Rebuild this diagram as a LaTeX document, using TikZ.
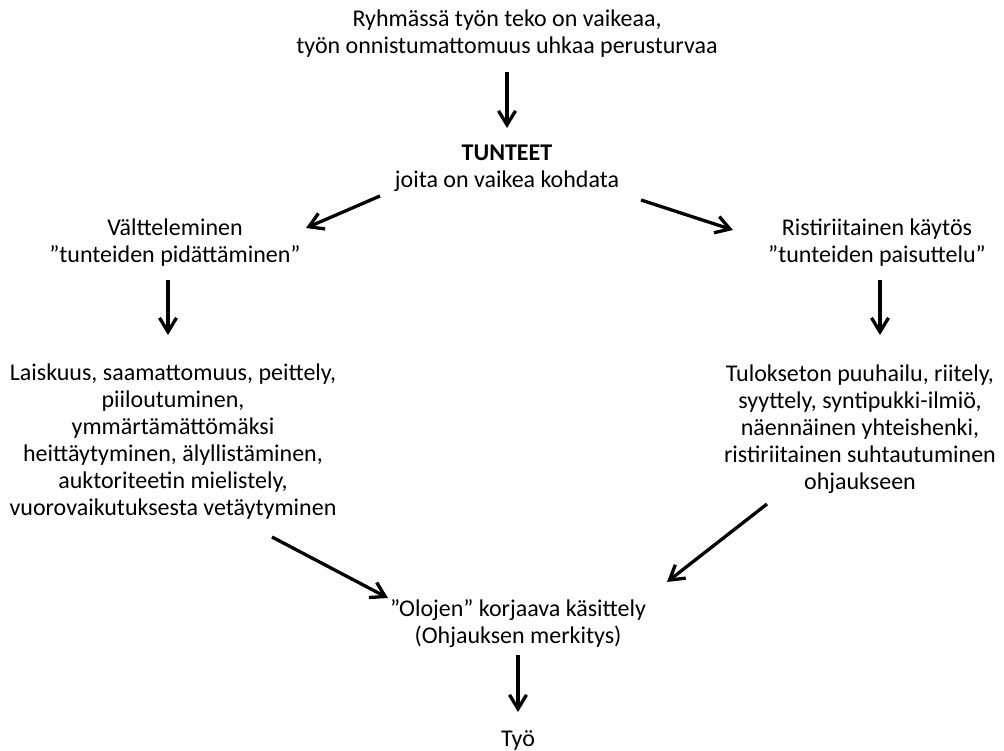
\documentclass[tikz,border=0pt]{standalone}
\usepackage{fontspec}
\setmainfont{Carlito}
\usetikzlibrary{arrows.meta}
\tikzset{
  txt/.style={align=center, inner sep=0pt, font=\fontsize{24}{27}\selectfont},
  arr/.style={line width=3.3pt, -{Straight Barb[length=14pt,width=17pt,line width=3.3pt]}}
}
\begin{document}
\begin{tikzpicture}[x=1pt,y=-1pt]
\useasboundingbox (0,0) rectangle (1004,751);
\node[txt] (top) at (507,33.5) {Ryhmässä työn teko on vaikeaa,\\työn onnistumattomuus uhkaa perusturvaa};
\node[txt] (tun) at (507,168.5) {\textbf{TUNTEET}\\joita on vaikea kohdata};
\node[txt] (valt) at (175,243) {Vältteleminen\\”tunteiden pidättäminen”};
\node[txt] (rist) at (877,243) {Ristiriitainen käytös\\”tunteiden paisuttelu”};
\node[txt] (left) at (173,442) {Laiskuus, saamattomuus, peittely,\\piiloutuminen,\\ymmärtämättömäksi\\heittäytyminen, älyllistäminen,\\auktoriteetin mielistely,\\vuorovaikutuksesta vetäytyminen};
\node[txt] (right) at (860,429) {Tulokseton puuhailu, riitely,\\syyttely, syntipukki-ilmiö,\\näennäinen yhteishenki,\\ristiriitainen suhtautuminen\\ohjaukseen};
\node[txt] (oloj) at (518,623.5) {”Olojen” korjaava käsittely\\(Ohjauksen merkitys)};
\node[txt] (tyo) at (518,740) {Työ};
\draw[arr] ([shift={(0,38.5)}]top.center) -- ([shift={(0,-40.5)}]tun.center);
\draw[arr] ([shift={(-127,27.5)}]tun.center) -- ([shift={(131,-15)}]valt.center);
\draw[arr] ([shift={(134,31.5)}]tun.center) -- ([shift={(-144,-13)}]rist.center);
\draw[arr] ([shift={(-7,37)}]valt.center) -- ([shift={(-5,-107)}]left.center);
\draw[arr] ([shift={(3,37)}]rist.center) -- ([shift={(20,-94)}]right.center);
\draw[arr] ([shift={(99,95)}]left.center) -- ([shift={(-130,-25.5)}]oloj.center);
\draw[arr] ([shift={(-93,75)}]right.center) -- ([shift={(149,-41.5)}]oloj.center);
\draw[arr] ([shift={(0,31.5)}]oloj.center) -- ([shift={(0,-28)}]tyo.center);
\end{tikzpicture}
\end{document}
